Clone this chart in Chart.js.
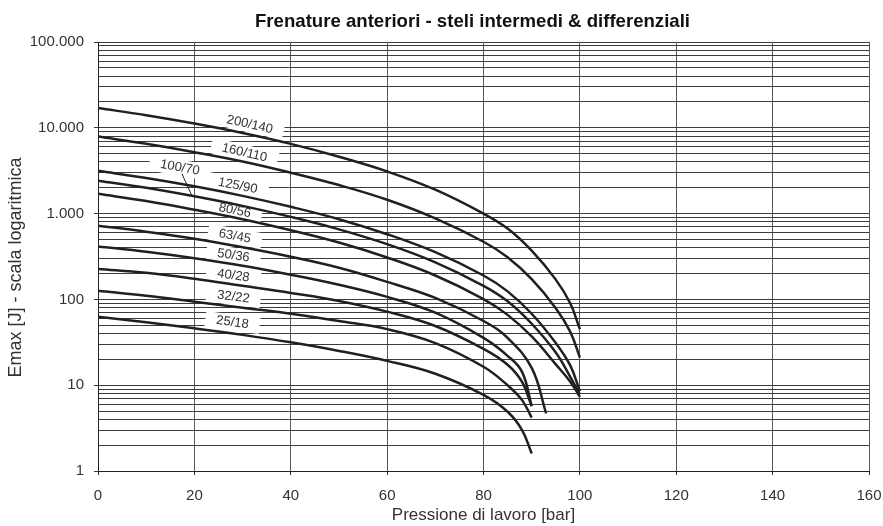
<!DOCTYPE html>
<html>
<head>
<meta charset="utf-8">
<script src="https://cdn.jsdelivr.net/npm/chart.js@4/dist/chart.umd.min.js"></script>
<style>
  html, body { margin: 0; padding: 0; background: #fff; }
</style>
</head>
<body>
<canvas id="chart" width="883" height="526"></canvas>
<script>
// Pressure steps (bar) used by each family of curves
const pressureTo100 = [0, 10, 20, 30, 40, 50, 60, 70, 80, 85, 90, 95, 98, 100];
const pressureTo93 = [0, 10, 20, 30, 40, 50, 60, 70, 80, 85, 90, 93];
const pressureTo90 = [0, 10, 20, 30, 40, 50, 60, 70, 80, 85, 88, 90];

// Max cushioning energy [J] per bore/rod size
const e200_140 = [17000, 14000, 11200, 8700, 6500, 4600, 3100, 1900, 1000, 670, 370, 170, 90, 45];
const e160_110 = [7900, 6500, 5200, 4050, 3000, 2150, 1450, 880, 470, 310, 172, 79, 42, 21];
const e125_90 = [3150, 2600, 2080, 1610, 1200, 860, 575, 355, 190, 124, 68, 31, 17, 8.5];
const e100_70 = [2420, 2000, 1590, 1230, 915, 655, 440, 270, 144, 95, 52, 24, 12.5, 7.8];
const e80_56 = [1700, 1400, 1110, 860, 640, 460, 308, 190, 101, 66, 37, 17.5, 11, 7.3];
const e63_45 = [723, 615, 510, 405, 314, 234, 160, 104, 56, 35.6, 15.9, 4.7];
const e50_36 = [414, 359, 302, 247, 194, 148, 107, 70, 35.6, 22, 14.3, 5.7];
const e40_28 = [226, 204, 174, 144, 119, 96, 72, 49, 26.5, 17.3, 10.9, 5.7];
const e32_22 = [126, 110, 94, 80, 68, 56, 45, 31, 16.4, 10, 6.7, 4.2];
const e25_18 = [63, 54, 46, 38.6, 31.6, 25.1, 19.2, 13.6, 7.7, 4.9, 3.0, 1.6];

const sizes = ['200/140', '160/110', '125/90', '100/70', '80/56', '63/45', '50/36', '40/28', '32/22', '25/18'];
const pressures = [pressureTo100, pressureTo100, pressureTo100, pressureTo100, pressureTo100,
  pressureTo93, pressureTo90, pressureTo90, pressureTo90, pressureTo90];
const energies = [e200_140, e160_110, e125_90, e100_70, e80_56, e63_45, e50_36, e40_28, e32_22, e25_18];

const chartTitle = 'Frenature anteriori - steli intermedi & differenziali';
const yTitle = 'Emax [J] - scala logaritmica';
const xTitle = 'Pressione di lavoro [bar]';

// Y ticks: 1..9 in every decade from 1 to 100.000
const yTicks = [];
for (let d = 0; d < 5; d++) {
  for (let m = 1; m <= 9; m++) yTicks.push(m * Math.pow(10, d));
}
yTicks.push(100000);

const isDecade = v => Math.abs(Math.log10(v) - Math.round(Math.log10(v))) < 1e-9;
const fmtIt = v => String(Math.round(v)).replace(/\B(?=(\d{3})+(?!\d))/g, '.');

// Curve labels: pressure where the label sits, pixels above the curve
const curveLabels = [
  { series: 0, at: 31.5, lift: 10 },
  { series: 1, at: 30.4, lift: 9 },
  { series: 2, at: 29, lift: 9 },
  { series: 3, at: 17, lift: 26, leaderTo: 19.5 },
  { series: 4, at: 28.4, lift: 7 },
  { series: 5, at: 28.4, lift: 9.5 },
  { series: 6, at: 28.1, lift: 8.6 },
  { series: 7, at: 28.1, lift: 8.7 },
  { series: 8, at: 28.1, lift: 9.6 },
  { series: 9, at: 27.9, lift: 11 }
];

const FONT = "'Liberation Sans', Arial, Helvetica, sans-serif";
const INK = '#333333';

function pointOnCurve(chart, index, p) {
  const pts = chart.getDatasetMeta(index).data;
  const px = chart.scales.x.getPixelForValue(p);
  for (let i = 1; i < pts.length; i++) {
    if (pts[i].x >= px) {
      const a = pts[i - 1], b = pts[i];
      const t = (px - a.x) / (b.x - a.x);
      return { x: px, y: a.y + t * (b.y - a.y), angle: Math.atan2(b.y - a.y, b.x - a.x) };
    }
  }
  return null;
}

const labelPlugin = {
  id: 'curveLabels',
  beforeDatasetsDraw(chart) {
    const ctx = chart.ctx;
    ctx.save();
    ctx.font = '13px ' + FONT;
    curveLabels.forEach(l => {
      const c = pointOnCurve(chart, l.series, l.at);
      if (!c) return;
      const text = sizes[l.series];
      const w = ctx.measureText(text).width;
      const cx = c.x, cy = c.y - l.lift;
      ctx.save();
      ctx.translate(cx, cy);
      ctx.rotate(c.angle);
      ctx.fillStyle = '#ffffff';
      ctx.fillRect(-w / 2 - 11, -8, w + 22, 16);
      ctx.fillStyle = INK;
      ctx.textAlign = 'center';
      ctx.textBaseline = 'middle';
      ctx.fillText(text, 0, 0);
      ctx.restore();
      if (l.leaderTo !== undefined) {
        const t = pointOnCurve(chart, l.series, l.leaderTo);
        ctx.strokeStyle = '#222';
        ctx.lineWidth = 1;
        ctx.beginPath();
        ctx.moveTo(cx + 2, cy + 6);
        ctx.lineTo(t.x, t.y);
        ctx.stroke();
      }
    });
    ctx.restore();
  }
};

// Chart title and y title drawn by hand so they can sit where the sheet has them
const titlesPlugin = {
  id: 'titles',
  afterDraw(chart) {
    const ctx = chart.ctx;
    const area = chart.chartArea;
    ctx.save();
    ctx.fillStyle = '#111';
    ctx.font = 'bold 18.6px ' + FONT;
    ctx.textAlign = 'center';
    ctx.textBaseline = 'alphabetic';
    ctx.fillText(chartTitle, (area.left + area.right) / 2 - 11, 27);
    ctx.fillStyle = INK;
    ctx.font = '18px ' + FONT;
    ctx.translate(16, (area.top + area.bottom) / 2 + 11);
    ctx.rotate(-Math.PI / 2);
    ctx.textBaseline = 'middle';
    ctx.fillText(yTitle, 0, 0);
    ctx.restore();
  }
};

const datasets = sizes.map((s, i) => ({
  label: s,
  data: pressures[i].map((p, k) => ({ x: p, y: energies[i][k] })),
  borderColor: '#231f20',
  borderWidth: 2.5,
  pointRadius: 0,
  fill: false,
  tension: 0.4
}));

new Chart(document.getElementById('chart'), {
  type: 'line',
  data: { datasets },
  plugins: [labelPlugin, titlesPlugin],
  options: {
    responsive: false,
    animation: false,
    layout: { padding: { left: 0, right: 14, top: 42, bottom: 0 } },
    plugins: {
      legend: { display: false },
      tooltip: { enabled: false },
      title: { display: false }
    },
    scales: {
      x: {
        type: 'linear',
        min: 0,
        max: 160,
        ticks: { stepSize: 20, color: INK, font: { family: FONT, size: 15 }, padding: 12, maxRotation: 0 },
        grid: { color: '#5a5a5a', lineWidth: 1, tickLength: 4, tickColor: '#333' },
        border: { color: '#222' },
        title: {
          display: true,
          text: xTitle,
          color: INK,
          font: { family: FONT, size: 17 },
          padding: { top: 0, bottom: 0 }
        },
        afterFit: s => { s.height = 55; s.paddingRight = 0; }
      },
      y: {
        type: 'logarithmic',
        min: 1,
        max: 100000,
        afterBuildTicks: s => { s.ticks = yTicks.map(v => ({ value: v, major: isDecade(v) })); },
        ticks: {
          autoSkip: false,
          color: INK,
          font: { family: FONT, size: 15 },
          padding: 10,
          callback: v => isDecade(v) ? fmtIt(v) : ''
        },
        grid: {
          color: '#3c3c3c',
          lineWidth: 1,
          tickLength: 4,
          tickColor: c => (c.tick && isDecade(c.tick.value)) ? '#333' : 'rgba(0,0,0,0)'
        },
        border: { color: '#222' },
        afterFit: s => { s.width = 98; s.paddingTop = 0; s.paddingBottom = 0; }
      }
    }
  }
});
</script>
</body>
</html>
